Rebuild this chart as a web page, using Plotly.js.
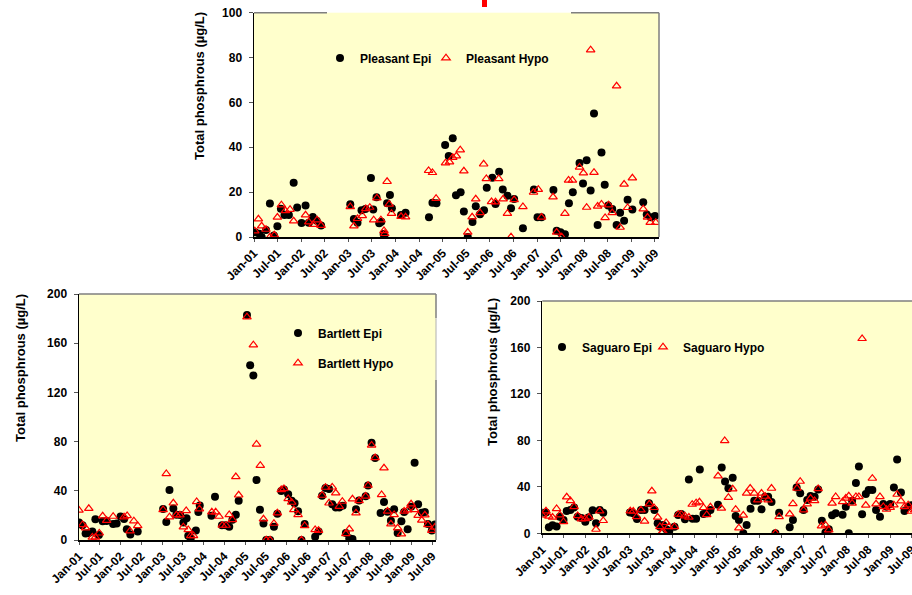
<!DOCTYPE html>
<html>
<head>
<meta charset="utf-8">
<script src="https://cdn.plot.ly/plotly-3.0.1.min.js"></script>
<style>html,body{margin:0;padding:0;background:#fff;}#chart{width:912px;height:595px;}</style>
</head>
<body>
<div id="chart"></div>
<script>
// ---------- Pleasant ----------
const pleasantEpiDates = ['2001-01-10','2001-02-10','2001-03-01','2001-04-04','2001-05-04','2001-06-04','2001-07-01','2001-07-28','2001-08-25','2001-09-28','2001-11-04','2001-12-01',
 '2002-01-04','2002-02-04','2002-03-01','2002-04-01','2002-05-01','2002-06-04',
 '2003-01-16','2003-02-13','2003-03-13','2003-04-13','2003-05-13','2003-06-25','2003-07-13','2003-08-07','2003-08-28','2003-09-13','2003-10-01','2003-10-07','2003-10-28','2003-11-19','2003-12-04',
 '2004-02-13','2004-03-19','2004-09-16','2004-10-13','2004-11-13',
 '2005-01-19','2005-02-16','2005-03-19','2005-04-13','2005-05-19','2005-06-13','2005-07-13','2005-08-19','2005-09-13','2005-10-16','2005-11-16','2005-12-07',
 '2006-01-19','2006-02-13','2006-03-13','2006-04-10','2006-05-16','2006-06-13','2006-07-07','2006-09-13','2006-12-07',
 '2007-01-04','2007-02-04','2007-05-07','2007-06-01','2007-07-01','2007-08-04','2007-09-04','2007-10-04','2007-11-25','2007-12-22',
 '2008-01-19','2008-02-19','2008-03-16','2008-04-13','2008-05-13','2008-06-07','2008-07-04','2008-08-04','2008-09-07','2008-10-04','2008-11-04','2008-12-01',
 '2009-01-07','2009-04-01','2009-04-28','2009-05-28','2009-07-01'];
const pleasantEpiTP = [2.1,1.5,0,3.1,14.9,0.7,4.8,12.6,9.8,9.8,24.2,13.2,
 6.2,14.0,6.4,8.9,7.3,5.1,
 14.6,8.0,6.4,11.9,12.5,26.3,12.3,17.7,6.1,6.8,1.3,0,15.0,18.7,12.8,
 9.8,10.8,8.8,15.3,15.0,
 41.0,36.1,44.0,18.6,19.9,11.4,0,6.7,13.7,10.1,11.9,22.0,
 26.4,14.7,29.1,21.2,18.4,12.8,16.9,3.9,21.2,
 8.8,8.8,21.0,2.8,2.1,1.2,15.0,19.9,33.0,23.9,
 34.2,20.7,55.1,5.3,37.7,23.3,14.0,12.5,5.3,10.8,7.3,16.6,
 12.3,15.5,10.0,8.8,9.4];
const pleasantHypoDates = ['2001-01-07','2001-02-04','2001-03-01','2001-04-04','2001-05-04','2001-06-07','2001-07-01','2001-08-01','2001-09-01','2001-10-07','2001-11-04',
 '2002-02-04','2002-03-01','2002-04-04','2002-05-04','2002-06-04',
 '2003-01-16','2003-02-13','2003-03-13','2003-04-19','2003-05-16','2003-06-16','2003-07-16','2003-08-10','2003-09-10','2003-10-04','2003-10-10','2003-10-28','2003-11-13','2003-12-01',
 '2004-02-13','2004-03-19','2004-09-13','2004-10-13','2004-11-10',
 '2005-01-22','2005-02-22','2005-03-19','2005-04-16','2005-05-16','2005-06-13','2005-07-13','2005-08-16','2005-09-13','2005-10-16','2005-11-13','2005-12-04',
 '2006-01-13','2006-02-13','2006-03-10','2006-04-13','2006-05-16','2006-06-13','2006-07-07','2006-09-13','2006-12-04',
 '2007-01-10','2007-02-04','2007-05-04','2007-06-01','2007-07-10','2007-08-04','2007-09-01','2007-10-01','2007-11-25','2007-12-25',
 '2008-01-19','2008-02-19','2008-03-16','2008-04-13','2008-05-13','2008-06-10','2008-07-07','2008-08-04','2008-09-07','2008-10-04','2008-11-04','2008-12-01',
 '2009-01-07','2009-04-01','2009-05-04','2009-05-25','2009-07-07'];
const pleasantHypoTP = [2.7,8.0,4.9,3.4,0,0.9,8.8,14.3,11.7,12.3,7.1,
 9.8,6.7,5.6,7.6,5.1,
 13.5,4.9,8.2,9.5,12.6,13.2,7.6,17.4,7.6,2.8,1.5,24.7,14.6,10.5,
 9.1,8.9,29.6,28.7,17.2,
 33.0,33.4,35.4,36.1,38.8,29.4,2.1,8.9,16.9,10.8,32.5,26.0,
 15.7,15.6,26.0,16.9,10.5,0,16.6,13.5,19.9,
 21.2,8.8,17.8,2.1,0,10.5,25.3,25.3,31.1,28.5,
 13.2,83.4,28.8,13.7,14.6,8.6,14.3,10.8,67.3,4.3,23.5,13.1,
 26.3,12.5,8.8,6.5,6.5];

// ---------- Bartlett ----------
const bartlettEpiDates = ['2001-01-01','2001-02-01','2001-02-28','2001-03-28','2001-04-28','2001-05-25','2001-06-25','2001-07-28','2001-09-01','2001-10-28','2001-11-28',
 '2002-01-01','2002-02-01','2002-02-25','2002-03-28','2002-06-01',
 '2003-01-10','2003-02-07','2003-03-07','2003-04-10','2003-05-07','2003-06-10','2003-07-07','2003-08-04','2003-08-19','2003-09-10','2003-10-25','2003-11-16','2003-11-28',
 '2004-03-10','2004-04-10','2004-06-10','2004-07-13','2004-08-13','2004-09-10','2004-10-10','2004-11-04',
 '2005-01-16','2005-02-13','2005-03-13','2005-04-10','2005-05-10','2005-06-10','2005-07-04','2005-08-07','2005-09-10','2005-10-10','2005-11-13','2005-12-07',
 '2006-01-13','2006-02-13','2006-03-10','2006-04-10','2006-05-10','2006-06-07','2006-09-07','2006-10-07','2006-11-07','2006-12-07',
 '2007-01-07','2007-02-04','2007-03-07','2007-04-07','2007-05-07','2007-06-04','2007-07-04','2007-08-01','2007-09-01','2007-09-28','2007-11-25','2007-12-16',
 '2008-01-16','2008-02-16','2008-04-04','2008-05-04','2008-06-04','2008-07-04','2008-08-01','2008-09-01','2008-10-04','2008-10-28','2008-11-28','2008-12-28',
 '2009-01-28','2009-02-28','2009-04-01','2009-04-28','2009-05-25','2009-06-28','2009-07-25'];
const bartlettEpiTP = [14.3,11.9,5.2,5.7,7.0,16.8,4.0,15.2,15.5,13.0,13.5,
 19.2,17.0,8.7,4.5,7.0,
 25.2,14.6,40.6,25.7,20.6,20.3,14.3,17.6,3.5,1.6,7.8,22.7,28.1,
 19.8,35.2,11.9,11.9,10.8,16.5,20.6,31.9,
 183,142,133.7,48.7,24.6,13.5,0,0,10.8,21.4,39.8,41.1,
 37.1,31.9,29.8,23.3,0,13.0,2.7,7.0,36.0,42.2,
 41.4,29.0,26.5,26.5,27.9,5.7,1.4,0.8,24.9,32.2,35.5,44.4,
 79.0,66.6,21.9,30.9,23.0,15.7,24.9,5.7,15.2,22.7,8.7,27.1,
 62.8,29.0,22.2,22.7,13.0,7.8,12.7];
const bartlettHypoDates = ['2001-01-01','2001-02-01','2001-02-28','2001-03-28','2001-04-28','2001-05-25','2001-06-28','2001-07-28','2001-09-01','2001-10-28',
 '2002-02-01','2002-02-28','2002-03-25','2002-04-28','2002-06-01',
 '2003-01-10','2003-02-07','2003-03-07','2003-04-10','2003-05-07','2003-06-07','2003-07-07','2003-08-01','2003-08-19','2003-09-10','2003-10-04','2003-11-01','2003-11-25',
 '2004-03-13','2004-04-16','2004-05-16','2004-06-13','2004-07-16','2004-08-13','2004-09-10','2004-10-10','2004-11-04',
 '2005-01-16','2005-03-13','2005-04-10','2005-05-13','2005-06-10','2005-07-04','2005-08-07','2005-09-10','2005-10-10','2005-11-13','2005-12-07',
 '2006-01-13','2006-02-13','2006-03-04','2006-04-10','2006-05-10','2006-06-07','2006-09-07','2006-10-07','2006-11-07','2006-12-07',
 '2007-01-07','2007-02-04','2007-03-07','2007-04-07','2007-05-04','2007-06-04','2007-07-04','2007-08-01','2007-09-01','2007-09-28','2007-11-25','2007-12-16',
 '2008-01-16','2008-02-16','2008-04-13','2008-05-04','2008-06-04','2008-07-04','2008-08-01','2008-09-01','2008-10-04','2008-10-28','2008-11-28','2008-12-28',
 '2009-01-28','2009-02-28','2009-04-01','2009-04-28','2009-05-25','2009-06-28','2009-07-25'];
const bartlettHypoTP = [24.2,12.4,9.7,25.6,2.3,2.2,5.6,19.5,15.8,19.2,
 18.7,19.8,7.3,15.5,11.6,
 24.6,53.9,18.7,30.0,20.3,20.3,10.6,23.8,8.4,3.5,3.5,31.1,25.2,
 22.7,22.7,19.2,11.9,11.9,20.6,16.5,51.4,36.5,
 181.3,158.6,77.9,60.6,17.0,0,0,13.5,21.9,40.9,41.7,
 33.6,30.6,24.6,20.6,0,11.6,8.4,7.8,36.3,42.8,
 30.0,43.0,38.2,27.3,31.4,5.1,8.9,33.3,21.9,31.9,35.5,44.4,
 77.1,66.8,36.8,58.5,23.3,13.0,20.6,9.7,4.9,23.3,24.4,29.2,
 24.6,20.0,16.0,20.3,12.4,7.8,10.3];

// ---------- Saguaro ----------
const saguaroEpiDates = ['2001-01-01','2001-02-01','2001-02-25','2001-03-28','2001-05-01','2001-05-28','2001-06-28','2001-07-25','2001-08-25','2001-09-25','2001-10-25','2001-11-25','2001-12-28',
 '2002-01-28','2002-02-28','2002-03-28','2002-04-28','2002-05-28',
 '2003-01-07','2003-02-04','2003-03-07','2003-04-10','2003-05-10','2003-06-16','2003-08-01','2003-08-28','2003-09-16','2003-10-13','2003-11-07','2003-12-04',
 '2004-01-16','2004-02-16','2004-03-13','2004-04-13','2004-05-16','2004-06-16','2004-07-16','2004-08-16','2004-09-16','2004-10-16','2004-11-13',
 '2005-01-16','2005-02-16','2005-03-16','2005-04-13','2005-05-19','2005-06-13','2005-07-10','2005-08-16','2005-09-13','2005-10-16','2005-11-16','2005-12-16',
 '2006-01-16','2006-02-16','2006-03-13','2006-04-10','2006-05-13','2006-06-13','2006-09-10','2006-10-07','2006-11-07','2006-12-07',
 '2007-01-04','2007-02-04','2007-03-04','2007-04-07','2007-05-07','2007-06-07','2007-07-07','2007-08-04','2007-09-01','2007-10-01','2007-11-28','2007-12-25',
 '2008-01-19','2008-02-16','2008-03-19','2008-04-13','2008-05-10','2008-06-10','2008-07-04','2008-08-04','2008-09-04','2008-10-07','2008-11-04','2008-12-01',
 '2009-01-01','2009-02-01','2009-02-28','2009-04-01','2009-05-01','2009-06-01','2009-06-28'];
const saguaroEpiTP = [17.8,18.0,5.2,7.0,5.8,14.3,11.5,19.2,20.0,22.3,14.3,13.2,10.0,
 13.8,19.8,8.6,20.0,17.8,
 18.0,17.2,12.3,20.0,20.0,25.8,20.0,8.6,5.7,7.2,3.4,2.3,
 5.7,15.8,16.6,12.0,46.4,12.6,12.6,55.0,16.6,17.2,20.0,
 24.6,56.7,44.7,38.7,47.9,14.9,11.5,0,7.2,21.2,28.1,28.1,
 20.6,31.5,31.5,26.9,0,17.8,5.2,11.5,39.5,34.4,
 20.0,28.7,32.1,31.5,37.8,10.9,0.6,3.4,15.5,17.2,16.0,22.9,
 0,28.1,43.3,57.6,16.3,33.8,37.2,37.2,20.0,14.3,25.2,22.9,
 25.2,39.5,63.6,35.2,19.2,22.9,24.1];
const saguaroHypoDates = ['2001-01-01','2001-02-01','2001-02-25','2001-03-28','2001-05-01','2001-05-28','2001-06-28','2001-07-25','2001-08-25','2001-09-25','2001-10-25','2001-11-25','2001-12-28',
 '2002-01-28','2002-03-28','2002-04-28','2002-05-28',
 '2003-01-10','2003-02-04','2003-03-04','2003-04-10','2003-05-10','2003-06-19','2003-07-10','2003-07-28','2003-08-28','2003-09-16','2003-10-04','2003-10-13','2003-11-07','2003-11-28',
 '2004-01-16','2004-02-16','2004-03-13','2004-04-13','2004-05-16','2004-06-13','2004-07-16','2004-08-13','2004-09-16','2004-10-13','2004-11-13',
 '2005-01-16','2005-02-13','2005-03-13','2005-04-13','2005-05-19','2005-06-13','2005-07-10','2005-08-16','2005-09-13','2005-10-13','2005-11-16','2005-12-16',
 '2006-01-16','2006-02-16','2006-03-13','2006-04-10','2006-05-13','2006-06-13','2006-09-10','2006-10-07','2006-11-10','2006-12-07',
 '2007-01-04','2007-02-04','2007-03-04','2007-04-07','2007-05-07','2007-06-04','2007-07-07','2007-08-04','2007-09-01','2007-10-01','2007-11-28','2007-12-25',
 '2008-01-19','2008-02-16','2008-03-19','2008-04-13','2008-05-10','2008-06-10','2008-08-04','2008-09-04','2008-10-07','2008-11-04','2008-12-01',
 '2009-01-01','2009-02-01','2009-02-28','2009-04-01','2009-05-01','2009-06-01','2009-06-28','2009-07-25'];
const saguaroHypoTP = [15.5,19.2,14.6,13.8,21.2,15.8,10.0,31.2,28.1,22.9,15.2,12.3,12.6,
 13.8,3.4,19.2,10.9,
 19.2,18.9,14.3,20.0,10.3,25.2,36.4,22.1,13.8,5.7,0.9,1.4,9.2,5.7,
 5.7,16.3,16.3,14.9,13.8,24.9,26.1,26.9,22.1,16.0,22.6,
 49.3,21.5,79.7,30.9,38.1,20.6,4.6,15.5,34.4,38.7,34.4,28.7,
 34.4,31.8,28.7,38.7,0,14.3,16.6,25.5,38.7,44.7,
 20.0,25.2,30.1,28.1,38.4,6.3,7.2,2.9,25.8,31.5,27.2,30.1,
 32.1,25.8,31.5,31.5,167.6,24.1,47.3,25.2,31.5,22.9,20.6,
 22.3,24.4,33.5,27.8,22.9,24.4,18.9,20.0];

const yTitle = 'Total phosphrous (µg/L)';

const W = 912, H = 595;
const FONT = 'Liberation Sans, Arial, sans-serif';
const epiMarker = {symbol: 'circle', size: 8, color: '#000000', line: {width: 0}};
const hypoMarker = {symbol: 'triangle-up-open', size: 7.5, color: '#FF0000', line: {width: 1.2, color: '#FF0000'}};

function tr(x, y, name, marker, xa, ya, leg) {
  return {type: 'scatter', mode: 'markers', x: x, y: y, name: name, marker: marker,
          xaxis: xa, yaxis: ya, legend: leg, showlegend: true, cliponaxis: true, hoverinfo: 'x+y+name'};
}

const data = [
  tr(pleasantEpiDates, pleasantEpiTP, 'Pleasant Epi', epiMarker, 'x', 'y', 'legend'),
  tr(pleasantHypoDates, pleasantHypoTP, 'Pleasant Hypo', hypoMarker, 'x', 'y', 'legend2'),
  tr(bartlettEpiDates, bartlettEpiTP, 'Bartlett Epi', epiMarker, 'x2', 'y2', 'legend3'),
  tr(bartlettHypoDates, bartlettHypoTP, 'Bartlett Hypo', hypoMarker, 'x2', 'y2', 'legend4'),
  tr(saguaroEpiDates, saguaroEpiTP, 'Saguaro Epi', epiMarker, 'x3', 'y3', 'legend5'),
  tr(saguaroHypoDates, saguaroHypoTP, 'Saguaro Hypo', hypoMarker, 'x3', 'y3', 'legend6')
];

const tickFont = {family: FONT, size: 12, color: '#000', weight: 700};
function xAx(domain, yref, end) {
  return {domain: domain, anchor: yref, type: 'date', range: ['2001-01-01', end],
    tick0: '2001-01-01', dtick: 'M6', tickformat: '%b-%y', tickangle: -45,
    ticks: 'outside', ticklen: 3, tickcolor: '#555', tickwidth: 1,
    ticklabeloverflow: 'allow',
    showline: true, linecolor: '#000', linewidth: 1.5, showgrid: false, zeroline: false,
    tickfont: tickFont, fixedrange: true};
}
function yAx(domain, xref, max, dt) {
  return {domain: domain, anchor: xref, range: [0, max], dtick: dt, tick0: 0,
    ticks: 'outside', ticklen: 4, tickcolor: '#555', tickwidth: 1, ticklabelstandoff: 4,
    showline: true, linecolor: '#000', linewidth: 1.5, showgrid: false, zeroline: false,
    tickfont: tickFont, fixedrange: true};
}
function leg(textX, cy) {
  return {x: (textX - 40) / W, y: 1 - cy / H, xanchor: 'left', yanchor: 'middle',
    bgcolor: 'rgba(0,0,0,0)', borderwidth: 0,
    font: {family: FONT, size: 12, color: '#000', weight: 700}};
}
function yTitleAnn(cx, cy) {
  return {xref: 'paper', yref: 'paper', x: cx / W, y: 1 - cy / H, xanchor: 'center', yanchor: 'middle',
    text: yTitle, textangle: -90, showarrow: false,
    font: {family: FONT, size: 13, color: '#000', weight: 700}};
}

const gray = '#7f7f7f';
const shapes = [
  // top plot: partial top border, right border
  {type: 'line', xref: 'x domain', yref: 'y domain', x0: 0, x1: (327 - 254) / 405, y0: 1, y1: 1, line: {color: gray, width: 1.5}},
  {type: 'line', xref: 'x domain', yref: 'y domain', x0: (571 - 254) / 405, x1: 1, y0: 1, y1: 1, line: {color: gray, width: 1.5}},
  {type: 'line', xref: 'x domain', yref: 'y domain', x0: 1, x1: 1, y0: 0, y1: 1, line: {color: gray, width: 1.5}},
  // red fragment above top plot
  {type: 'rect', xref: 'paper', yref: 'paper', x0: 482 / W, x1: 487 / W, y0: 1 - 7 / H, y1: 1, fillcolor: '#FF0000', line: {width: 0}},
  // bottom-left borders
  {type: 'line', xref: 'x2 domain', yref: 'y2 domain', x0: 0, x1: 1, y0: 1, y1: 1, line: {color: gray, width: 1.5}},
  {type: 'line', xref: 'x2 domain', yref: 'y2 domain', x0: 1, x1: 1, y0: 0.902, y1: 1, line: {color: gray, width: 1.5}},
  {type: 'line', xref: 'x2 domain', yref: 'y2 domain', x0: 1, x1: 1, y0: 0.650, y1: 0.902, line: {color: '#b0b0b0', width: 1}},
  {type: 'line', xref: 'x2 domain', yref: 'y2 domain', x0: 1, x1: 1, y0: 0, y1: 0.650, line: {color: gray, width: 1.5}},
  // bottom-right top border
  {type: 'line', xref: 'x3 domain', yref: 'y3 domain', x0: 0, x1: 1, y0: 1, y1: 1, line: {color: gray, width: 1.5}}
];

const layout = {
  width: W, height: H,
  margin: {l: 0, r: 0, t: 0, b: 0},
  paper_bgcolor: '#FFFFFF', plot_bgcolor: '#FFFFCC',
  font: {family: FONT, size: 12, color: '#000'},
  xaxis: xAx([254 / W, 659 / W], 'y', '2009-08-01'),
  yaxis: yAx([1 - 237 / H, 1 - 12.7 / H], 'x', 100, 20),
  xaxis2: xAx([79 / W, 436 / W], 'y2', '2009-08-04'),
  yaxis2: yAx([1 - 540 / H, 1 - 294 / H], 'x2', 200, 40),
  xaxis3: xAx([542.3 / W, 1], 'y3', '2009-07-03'),
  yaxis3: yAx([1 - 533.3 / H, 1 - 301 / H], 'x3', 200, 40),
  legend: leg(360, 58),
  legend2: leg(466, 58),
  legend3: leg(318, 333),
  legend4: leg(318, 363),
  legend5: leg(582, 347),
  legend6: leg(683, 347),
  annotations: [yTitleAnn(199, 86), yTitleAnn(20, 368), yTitleAnn(492, 372)],
  shapes: shapes,
  showlegend: true
};

Plotly.newPlot('chart', data, layout, {displayModeBar: false, staticPlot: true});
</script>
</body>
</html>
